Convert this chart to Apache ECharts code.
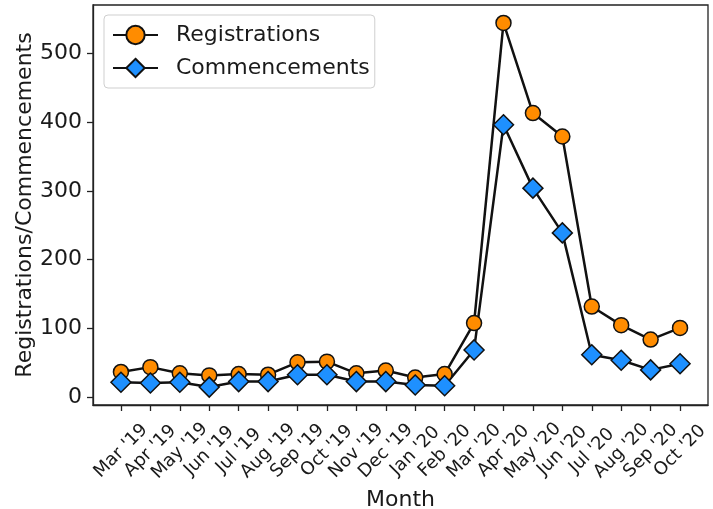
<!DOCTYPE html>
<html>
<head>
<meta charset="utf-8">
<script src="https://cdn.jsdelivr.net/npm/echarts@6/dist/echarts.min.js"></script>
<style>
  html, body { margin: 0; padding: 0; background: #fff; }
  #chart { width: 713px; height: 509px; }
</style>
</head>
<body>
<div id="chart"></div>
<script>
// Monthly counts, March 2019 to October 2020
const months = ["Mar '19", "Apr '19", "May '19", "Jun '19", "Jul '19", "Aug '19",
  "Sep '19", "Oct '19", "Nov '19", "Dec '19", "Jan '20", "Feb '20",
  "Mar '20", "Apr '20", "May '20", "Jun '20", "Jul '20", "Aug '20", "Sep '20", "Oct '20"];
const registrations = [37, 44, 35, 32, 34, 33, 51, 52, 35, 39, 29, 34, 108, 544, 413, 379, 132, 105, 84, 101];
const commencements = [22, 21, 22, 15, 23, 23, 33, 33, 23, 23, 18, 17, 69, 396, 304, 239, 62, 54, 40, 49];
const yTicks = [0, 100, 200, 300, 400, 500];

const FONT = 'DejaVu Sans';
const TEXT = '#1a1a1a';
const AXIS = '#222';

const xIdx = months.map((_, i) => i);
const toPairs = vals => vals.map((v, i) => [i, v]);

const chart = echarts.init(document.getElementById('chart'), null, { renderer: 'canvas' });

chart.setOption({
  animation: false,
  backgroundColor: '#fff',
  textStyle: { fontFamily: FONT, color: TEXT },
  grid: {
    left: 93, right: 5, top: 5, bottom: 104,
    outerBoundsMode: 'none',
    containLabel: false,
    show: true, borderColor: AXIS, borderWidth: 1.3, backgroundColor: 'transparent'
  },
  legend: {
    orient: 'vertical',
    left: 104, top: 15,
    padding: [9, 5, 9, 8],
    itemWidth: 45, itemHeight: 23, itemGap: 11,
    backgroundColor: 'rgba(255,255,255,0.85)',
    borderColor: '#cfcfcf', borderWidth: 1, borderRadius: 4,
    textStyle: { fontFamily: FONT, fontSize: 22, color: TEXT, padding: [0, 0, 0, 13] },
    data: ['Registrations', 'Commencements']
  },
  xAxis: {
    type: 'value',
    min: -0.95, max: 19.95,
    name: 'Month',
    nameLocation: 'middle',
    nameGap: 84,
    nameMoveOverlap: false,
    nameTextStyle: { fontFamily: FONT, fontSize: 22, color: TEXT },
    axisLine: { show: true, onZero: false, lineStyle: { color: AXIS, width: 1.3 } },
    axisTick: { show: true, length: 6, customValues: xIdx, lineStyle: { color: AXIS, width: 1.3 } },
    splitLine: { show: false },
    axisLabel: {
      customValues: xIdx,
      rotate: 45,
      align: 'center',
      verticalAlign: 'middle',
      margin: 46,
      fontFamily: FONT, fontSize: 18, color: TEXT,
      formatter: v => months[Math.round(v)]
    }
  },
  yAxis: {
    type: 'value',
    min: -11, max: 570,
    name: 'Registrations/Commencements',
    nameLocation: 'middle',
    nameGap: 57,
    nameMoveOverlap: false,
    nameTextStyle: { fontFamily: FONT, fontSize: 22, color: TEXT },
    axisLine: { show: true, onZero: false, lineStyle: { color: AXIS, width: 1.3 } },
    axisTick: { show: true, length: 6, customValues: yTicks, lineStyle: { color: AXIS, width: 1.3 } },
    splitLine: { show: false },
    axisLabel: {
      customValues: yTicks,
      margin: 11,
      fontFamily: FONT, fontSize: 22, color: TEXT
    }
  },
  series: [
    {
      name: 'Registrations',
      type: 'line',
      data: toPairs(registrations),
      symbol: 'circle',
      symbolSize: 15,
      color: '#FF8C00',
      itemStyle: { color: '#FF8C00', borderColor: '#111', borderWidth: 1.5 },
      lineStyle: { color: '#111', width: 2.5 },
      emphasis: { disabled: true }
    },
    {
      name: 'Commencements',
      type: 'line',
      data: toPairs(commencements),
      symbol: 'diamond',
      symbolSize: 20,
      color: '#1E90FF',
      itemStyle: { color: '#1E90FF', borderColor: '#111', borderWidth: 1.5 },
      lineStyle: { color: '#111', width: 2.5 },
      emphasis: { disabled: true }
    }
  ]
});
</script>
</body>
</html>
